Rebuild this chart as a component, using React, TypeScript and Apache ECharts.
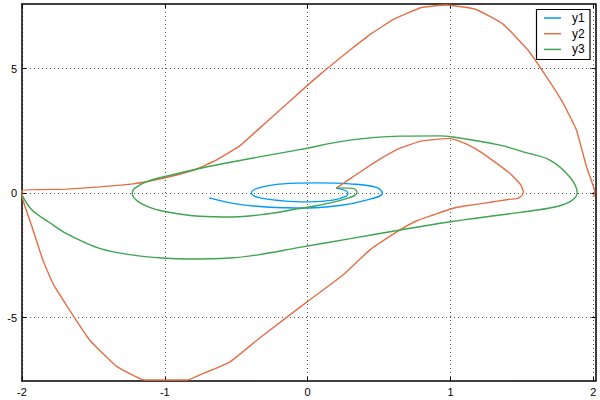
import React, { useEffect, useRef } from "react";
import * as echarts from "echarts";

const seriesNames = ["y1", "y2", "y3"];
const seriesColors = ["#009AFA", "#E36F47", "#3EA44E"];
const xTicks = [-2, -1, 0, 1, 2];
const yTicks = [-5, 0, 5];

const y1Points: [number, number][] = [
  [0.2, 0.2], [0.282, 0.01], [0.271, -0.12], [0.177, -0.28], [0.014, -0.35],
  [-0.173, -0.31], [-0.348, -0.17], [-0.394, 0.01], [-0.336, 0.22], [-0.173, 0.37],
  [0.06, 0.41], [0.294, 0.37], [0.481, 0.23], [0.523, -0.01], [0.411, -0.28],
  [0.224, -0.5], [0, -0.6], [-0.29, -0.56], [-0.523, -0.41], [-0.69, -0.19],
];

const y2Points: [number, number][] = [
  [0.2, 0.2], [0.364, 0.84], [0.5, 1.35], [0.644, 1.8], [0.8, 2.1], [1.0, 2.2],
  [1.12, 1.95], [1.226, 1.6], [1.415, 0.8], [1.49, 0.35], [1.51, 0.05], [1.5, -0.1],
  [1.47, -0.21], [1.35, -0.3], [1.228, -0.41], [1.1, -0.52], [1.0, -0.64], [0.878, -0.88],
  [0.76, -1.12], [0.644, -1.49], [0.434, -2.29], [0.247, -3.29], [0, -4.35],
  [-0.336, -5.82], [-0.546, -6.79], [-0.757, -7.31], [-0.839, -7.51], [-1.142, -7.51],
  [-1.34, -6.95], [-1.527, -5.9], [-1.667, -4.7], [-1.784, -3.63], [-1.854, -2.69],
  [-1.93, -1.35], [-2.0, -0.1], [-2.0, 0.12], [-1.69, 0.16], [-1.457, 0.25],
  [-1.224, 0.37], [-0.99, 0.63], [-0.8, 0.92], [-0.64, 1.33], [-0.476, 1.9],
  [-0.29, 2.85], [0, 4.34], [0.13, 4.98], [0.294, 5.74], [0.446, 6.41], [0.61, 7.01],
  [0.797, 7.46], [0.97, 7.56], [1.18, 7.38], [1.368, 6.79], [1.543, 5.74], [1.672, 4.67],
  [1.79, 3.6], [1.882, 2.53], [1.952, 1.06], [2.01, 0.05], [2.0, -0.15],
];

const y3Points: [number, number][] = [
  [0.2, 0.21], [0.318, 0.19], [0.345, 0.04], [0.33, -0.09], [0.271, -0.22], [0.18, -0.36],
  [0.05, -0.52], [-0.056, -0.62], [-0.29, -0.84], [-0.523, -0.96], [-0.757, -0.93],
  [-0.99, -0.75], [-1.107, -0.57], [-1.2, -0.28], [-1.228, -0.01], [-1.212, 0.19],
  [-1.13, 0.45], [-0.99, 0.68], [-0.757, 0.99], [-0.523, 1.26], [-0.056, 1.75],
  [0.294, 2.13], [0.644, 2.29], [0.925, 2.3], [1.0, 2.27], [1.345, 1.93], [1.508, 1.66],
  [1.695, 1.33], [1.835, 0.65], [1.887, 0.01], [1.835, -0.35], [1.695, -0.6],
  [1.345, -0.88], [1.0, -1.15], [0.668, -1.46], [0.3, -1.83], [-0.056, -2.18],
  [-0.336, -2.47], [-0.546, -2.61], [-0.85, -2.65], [-0.99, -2.62], [-1.224, -2.49],
  [-1.457, -2.22], [-1.69, -1.62], [-1.81, -1.17], [-1.93, -0.68], [-2.0, -0.08],
];

const seriesData = [y1Points, y2Points, y3Points];
const smoothness = [0.4, 0.12, 0.35];

const FONT = "Liberation Sans";

export default function App() {
  const ref = useRef<HTMLDivElement>(null);
  useEffect(() => {
    if (!ref.current) return;
    const chart = echarts.init(ref.current, undefined, { renderer: "svg" });
    const gridLine = { show: true, lineStyle: { color: "#555", width: 1, type: [1, 3] as any } };
    const axisLine = { show: true, onZero: false, lineStyle: { color: "#000", width: 1.5 } };
    const tickStyle = { show: true, inside: true, length: 4, lineStyle: { color: "#000", width: 1 } };
    const baseX = {
      type: "value" as const, min: -2, max: 2.015,
      axisLine,
      axisTick: { ...tickStyle, customValues: xTicks },
    };
    const baseY = {
      type: "value" as const, min: -7.55, max: 7.6,
      axisLine,
      axisTick: { ...tickStyle, customValues: yTicks },
    };
    const legendItems: any[] = [];
    const lx = 536.5, ly = 9.5;
    legendItems.push({
      type: "rect", shape: { x: lx, y: ly, width: 53.5, height: 50 },
      style: { fill: "#fff", stroke: "#000", lineWidth: 1.2 }, z: 100,
    });
    seriesNames.forEach((n, i) => {
      const yy = 18 + i * 15.7;
      legendItems.push({
        type: "line", shape: { x1: 544, y1: yy, x2: 561, y2: yy },
        style: { stroke: seriesColors[i], lineWidth: 1.5 }, z: 101,
      });
      legendItems.push({
        type: "text", x: 572, y: yy,
        style: { text: n, fill: "#000", font: `12px "${FONT}"`, textVerticalAlign: "middle", textAlign: "left" },
        z: 101,
      });
    });
    chart.setOption({
      animation: false,
      backgroundColor: "#fff",
      grid: { left: 22, right: 4.5, top: 4, bottom: 19, containLabel: false },
      xAxis: [
        {
          ...baseX, position: "bottom",
          splitLine: gridLine,
          axisLabel: { show: true, customValues: xTicks, margin: 5, color: "#000", fontSize: 11, fontFamily: FONT },
        },
        {
          ...baseX, position: "top",
          splitLine: { show: false },
          axisLabel: { show: false },
        },
      ],
      yAxis: [
        {
          ...baseY, position: "left",
          splitLine: gridLine,
          axisLabel: { show: true, customValues: yTicks, margin: 5, color: "#000", fontSize: 11, fontFamily: FONT },
        },
        {
          ...baseY, position: "right",
          splitLine: { show: false },
          axisLabel: { show: false },
        },
      ],
      series: seriesNames.map((n, i) => ({
        name: n,
        type: "line",
        xAxisIndex: 0,
        yAxisIndex: 0,
        data: seriesData[i],
        showSymbol: false,
        symbol: "none",
        smooth: smoothness[i],
        clip: true,
        lineStyle: { color: seriesColors[i], width: 1.4 },
        itemStyle: { color: seriesColors[i] },
      })),
      graphic: legendItems,
    });
    return () => chart.dispose();
  }, []);
  return (
    <div
      ref={ref}
      style={{ position: "absolute", left: 0, top: 0, width: 600, height: 400, background: "#fff" }}
    />
  );
}
